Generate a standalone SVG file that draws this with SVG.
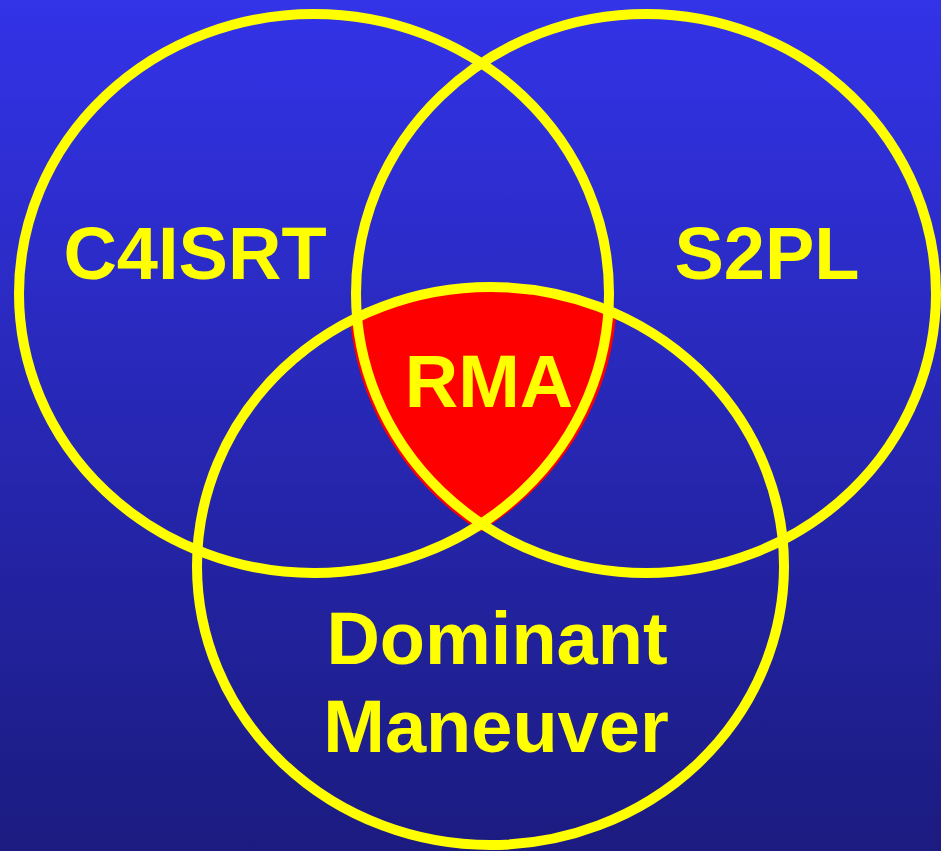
<svg xmlns="http://www.w3.org/2000/svg" width="941" height="851" viewBox="0 0 941 851">
  <style>
    .ring { fill: none; stroke: #ffff00; stroke-width: 10; }
    .lbl { font-family: "Liberation Sans", Arial, sans-serif; font-weight: bold; font-size: 74px; fill: #ffff00; text-anchor: middle; }
  </style>
  <defs>
    <linearGradient id="bg" x1="0" y1="0" x2="0" y2="1">
      <stop offset="0" stop-color="#3333e8"/>
      <stop offset="1" stop-color="#1b1b80"/>
    </linearGradient>
    <clipPath id="clipL">
      <ellipse cx="317" cy="293.5" rx="300" ry="284"/>
    </clipPath>
    <clipPath id="clipR">
      <ellipse cx="643" cy="295" rx="294" ry="284"/>
    </clipPath>
  </defs>
  <rect x="0" y="0" width="941" height="851" fill="url(#bg)"/>

  <g id="rma-region">
    <g clip-path="url(#clipL)">
      <g clip-path="url(#clipR)">
        <ellipse cx="490.5" cy="566" rx="298" ry="283" fill="#ff0000"/>
      </g>
    </g>
  </g>

  <g id="c4isrt">
    <ellipse class="ring" cx="314" cy="293.5" rx="295" ry="279.5"/>
    <text class="lbl" x="195" y="279">C4ISRT</text>
  </g>
  <g id="s2pl">
    <ellipse class="ring" cx="646" cy="293.5" rx="290" ry="279.5"/>
    <text class="lbl" x="767" y="279">S2PL</text>
  </g>
  <g id="dominant-maneuver">
    <ellipse class="ring" cx="490.5" cy="566" rx="293.5" ry="279"/>
    <text class="lbl" x="497" y="664">Dominant</text>
    <text class="lbl" x="496" y="752">Maneuver</text>
  </g>
  <g id="rma">
    <text class="lbl" x="489" y="407">RMA</text>
  </g>
  <g id="connectors"/>
</svg>
